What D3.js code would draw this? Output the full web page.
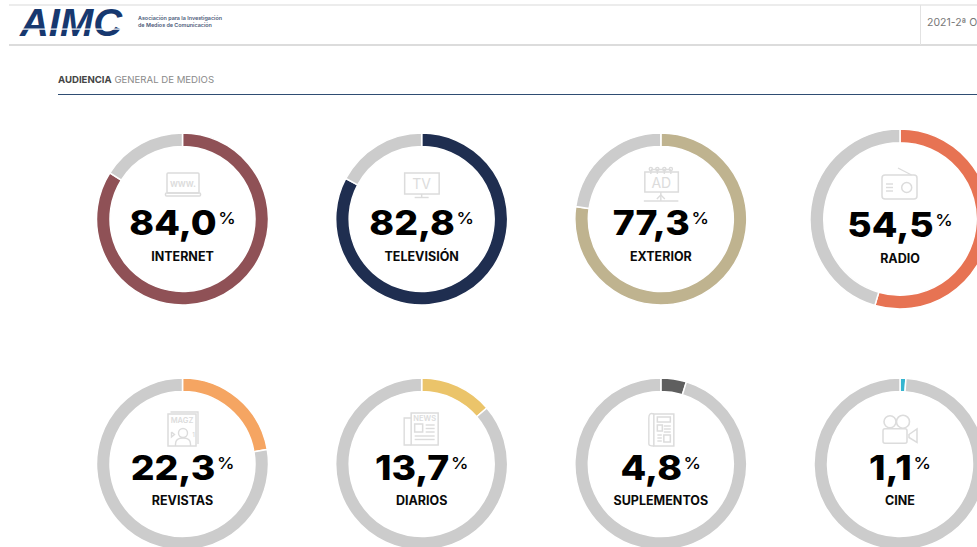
<!DOCTYPE html>
<html><head><meta charset="utf-8">
<script src="https://cdn.jsdelivr.net/npm/d3@7"></script>
<style>
html,body{margin:0;padding:0;background:#fff;overflow:hidden}
svg{display:block}
text{font-family:Inter,"Open Sans",sans-serif}
</style></head><body>
<svg id="c" width="977" height="547"></svg>
<script>
const categories = ["INTERNET","TELEVISIÓN","EXTERIOR","RADIO","REVISTAS","DIARIOS","SUPLEMENTOS","CINE"];
const values = [84.0,82.8,77.3,54.5,22.3,13.7,4.8,1.1];
const colors = ["#8f5156","#1f2e50","#bfb38f","#e77353","#f5a562","#ebc46a","#5f5f5f","#35b5d0"];
const restColor = "#cccccc";
const iconColor = "#dcdcdc";

const svg = d3.select("#c");
const W = 977;

/* header */
const header = svg.append("g");
header.append("rect").attr("x",9).attr("y",4).attr("width",W-9).attr("height",2).attr("fill","#ececec");
header.append("rect").attr("x",9).attr("y",44).attr("width",W-9).attr("height",2).attr("fill","#dcdcdc");
header.append("rect").attr("x",920).attr("y",5).attr("width",1).attr("height",40).attr("fill","#e2e2e2");
header.append("text").attr("x",20).attr("y",36).attr("textLength",102).attr("lengthAdjust","spacingAndGlyphs")
  .attr("font-size",38).attr("font-weight",900).attr("font-style","italic").attr("fill","#17386f")
  .style("font-family","'Liberation Sans',sans-serif").text("AIMC");
header.append("rect").attr("x",18).attr("y",28.5).attr("width",106).attr("height",1.2).attr("fill","#fff");
header.append("text").attr("x",138).attr("y",20).attr("font-size",5.4).attr("font-weight",600).attr("fill","#4c5a78").text("Asociación para la Investigación");
header.append("text").attr("x",138).attr("y",26.5).attr("font-size",5.4).attr("font-weight",600).attr("fill","#4c5a78").text("de Medios de Comunicación");
header.append("text").attr("x",927).attr("y",26).attr("font-size",10.5).attr("fill","#777").text("2021-2ª OI");

const title = svg.append("text").attr("x",58).attr("y",83).attr("font-size",9.6).attr("fill","#8a8a8a");
title.append("tspan").attr("font-weight",700).attr("fill","#444").text("AUDIENCIA");
title.append("tspan").text(" GENERAL DE MEDIOS");
svg.append("rect").attr("x",58).attr("y",94).attr("width",W-58).attr("height",1).attr("fill","#2f4d73");

/* layout */
const perRow = 4;
const xScale = d3.scalePoint().domain(d3.range(perRow)).range([182.5,900]);
const yScale = d3.scalePoint().domain([0,1]).range([219,464]);
const pie = d3.pie().sort(null).value(d=>d);

/* icons */
const icons = {
  INTERNET(g){
    box(g,-15.5,-46,32,20,1);
    box(g,-17,-26,35,3,1);
    label(g,0.5,-32.5,9.5,"www.");
  },
  "TELEVISIÓN"(g){
    box(g,-17,-46,34.5,21,0);
    label(g,0,-30,14,"TV",400);
    line(g,[[0,-25],[0,-22]]);
    line(g,[[-7,-21.5],[7,-21.5]]);
  },
  EXTERIOR(g){
    box(g,-16,-47,33.5,20,0);
    label(g,0.5,-31,14,"AD",400);
    [-10,-3.5,3.5,10].forEach(x=>{
      g.append("circle").attr("cx",x).attr("cy",-50).attr("r",1.6).attr("fill","none").attr("stroke",iconColor).attr("stroke-width",1.4);
      line(g,[[x,-49],[x,-45]]);
    });
    line(g,[[-10,-49.5],[10,-49.5]]);
    line(g,[[0,-27],[0,-18]]);
    line(g,[[-4,-20],[0,-24],[4,-20]]);
    line(g,[[-17,-18],[17.5,-18]]);
  },
  RADIO(g){
    box(g,-18,-44,35,24,3);
    line(g,[[-2,-51],[11.5,-44]]);
    g.append("circle").attr("cx",6.7).attr("cy",-31.5).attr("r",5).attr("fill","none").attr("stroke",iconColor).attr("stroke-width",1.5);
    [-35,-31.5,-28].forEach(y=>line(g,[[-14,y],[-7,y]]));
  },
  REVISTAS(g){
    line(g,[[-12,-52],[15.5,-52],[15.5,-20]]);
    box(g,-14.5,-50,28,32,0);
    label(g,-0.5,-41,7.5,"MAGZ");
    g.append("circle").attr("cx",0.5).attr("cy",-31).attr("r",4.5).attr("fill","none").attr("stroke",iconColor).attr("stroke-width",1.4);
    g.append("path").attr("d","M-7,-18 V-20 Q-7,-26 0.5,-26 Q8,-26 8,-20 V-18").attr("fill","none").attr("stroke",iconColor).attr("stroke-width",1.4);
    label(g,11,-27,6,"1");
    line(g,[[-11,-32],[-8,-29.5],[-11,-27],[-11,-32]]);
  },
  DIARIOS(g){
    box(g,-10.5,-51,27,32,0);
    line(g,[[-10.5,-46],[-17.5,-46],[-17.5,-19],[-10.5,-19]]);
    label(g,3,-43.5,7.5,"NEWS");
    box(g,-7,-40,8,8,0);
    [-39,-35.5,-32].forEach(y=>line(g,[[4,y],[13,y]]));
    [-28,-24.5].forEach(y=>line(g,[[-7,y],[13,y]]));
  },
  SUPLEMENTOS(g){
    box(g,-7,-50,20,32,0);
    g.append("path").attr("d","M-7,-50 Q-12,-52 -12,-46 V-20 Q-12,-18 -7,-18").attr("fill","none").attr("stroke",iconColor).attr("stroke-width",1.4);
    box(g,-3.5,-47,13,5,0);
    box(g,-3.5,-39,5,6,0);
    [-38,-35,-32].forEach(y=>line(g,[[3,y],[10,y]]));
    box(g,3,-29,6.5,7,0);
    [-29,-26,-23].forEach(y=>line(g,[[-3.5,y],[1,y]]));
  },
  CINE(g){
    g.append("circle").attr("cx",-10).attr("cy",-42.3).attr("r",6).attr("fill","none").attr("stroke",iconColor).attr("stroke-width",1.6);
    g.append("circle").attr("cx",3).attr("cy",-42.3).attr("r",6.5).attr("fill","none").attr("stroke",iconColor).attr("stroke-width",1.6);
    box(g,-17,-35.3,24,14.5,2);
    g.append("path").attr("d","M9,-29.5 L17,-35 V-21.5 L9,-26.5 Z").attr("fill","none").attr("stroke",iconColor).attr("stroke-width",1.5);
  }
};
function box(g,x,y,w,h,r){
  g.append("rect").attr("x",x).attr("y",y).attr("width",w).attr("height",h).attr("rx",r)
    .attr("fill","none").attr("stroke",iconColor).attr("stroke-width",1.5);
}
function line(g,pts){
  g.append("path").attr("d",d3.line()(pts)).attr("fill","none").attr("stroke",iconColor).attr("stroke-width",1.4);
}
function label(g,x,y,size,t,w){
  g.append("text").attr("x",x).attr("y",y).attr("text-anchor","middle").attr("font-size",size)
    .attr("font-weight",w||600).attr("fill",iconColor).text(t);
}

/* donuts */
categories.forEach((name,i)=>{
  const big = name==="RADIO";
  const outer = big?90:86, inner = big?76.2:72.5;
  const g = svg.append("g").attr("transform",`translate(${xScale(i%perRow)},${yScale(Math.floor(i/perRow))})`);
  const arc = d3.arc().innerRadius(inner).outerRadius(outer);
  g.selectAll("path.slice").data(pie([values[i],100-values[i]])).join("path")
    .attr("class","slice").attr("d",arc)
    .attr("fill",(d,k)=>k===0?colors[i]:restColor)
    .attr("stroke","#fff").attr("stroke-width",1.5);
  icons[name](g.append("g"));
  const dy = big?1.5:0;
  const v = g.append("text").attr("text-anchor","middle").attr("y",(i<perRow?16:16)+dy)
    .attr("transform","scale(1.1,1)").attr("fill","#000");
  v.append("tspan").attr("font-size",34).attr("font-weight",800)
    .text(values[i].toFixed(1).replace(".",","));
  v.append("tspan").attr("font-size",16).attr("font-weight",500).attr("dx",1.5).attr("dy",-11).text("%");
  g.append("text").attr("text-anchor","middle").attr("y",(i<perRow?42:41)+dy+ (big?0.5:0))
    .attr("font-size",12.5).attr("font-weight",700).attr("fill","#0a0a0a").text(name);
});
</script>
</body></html>
